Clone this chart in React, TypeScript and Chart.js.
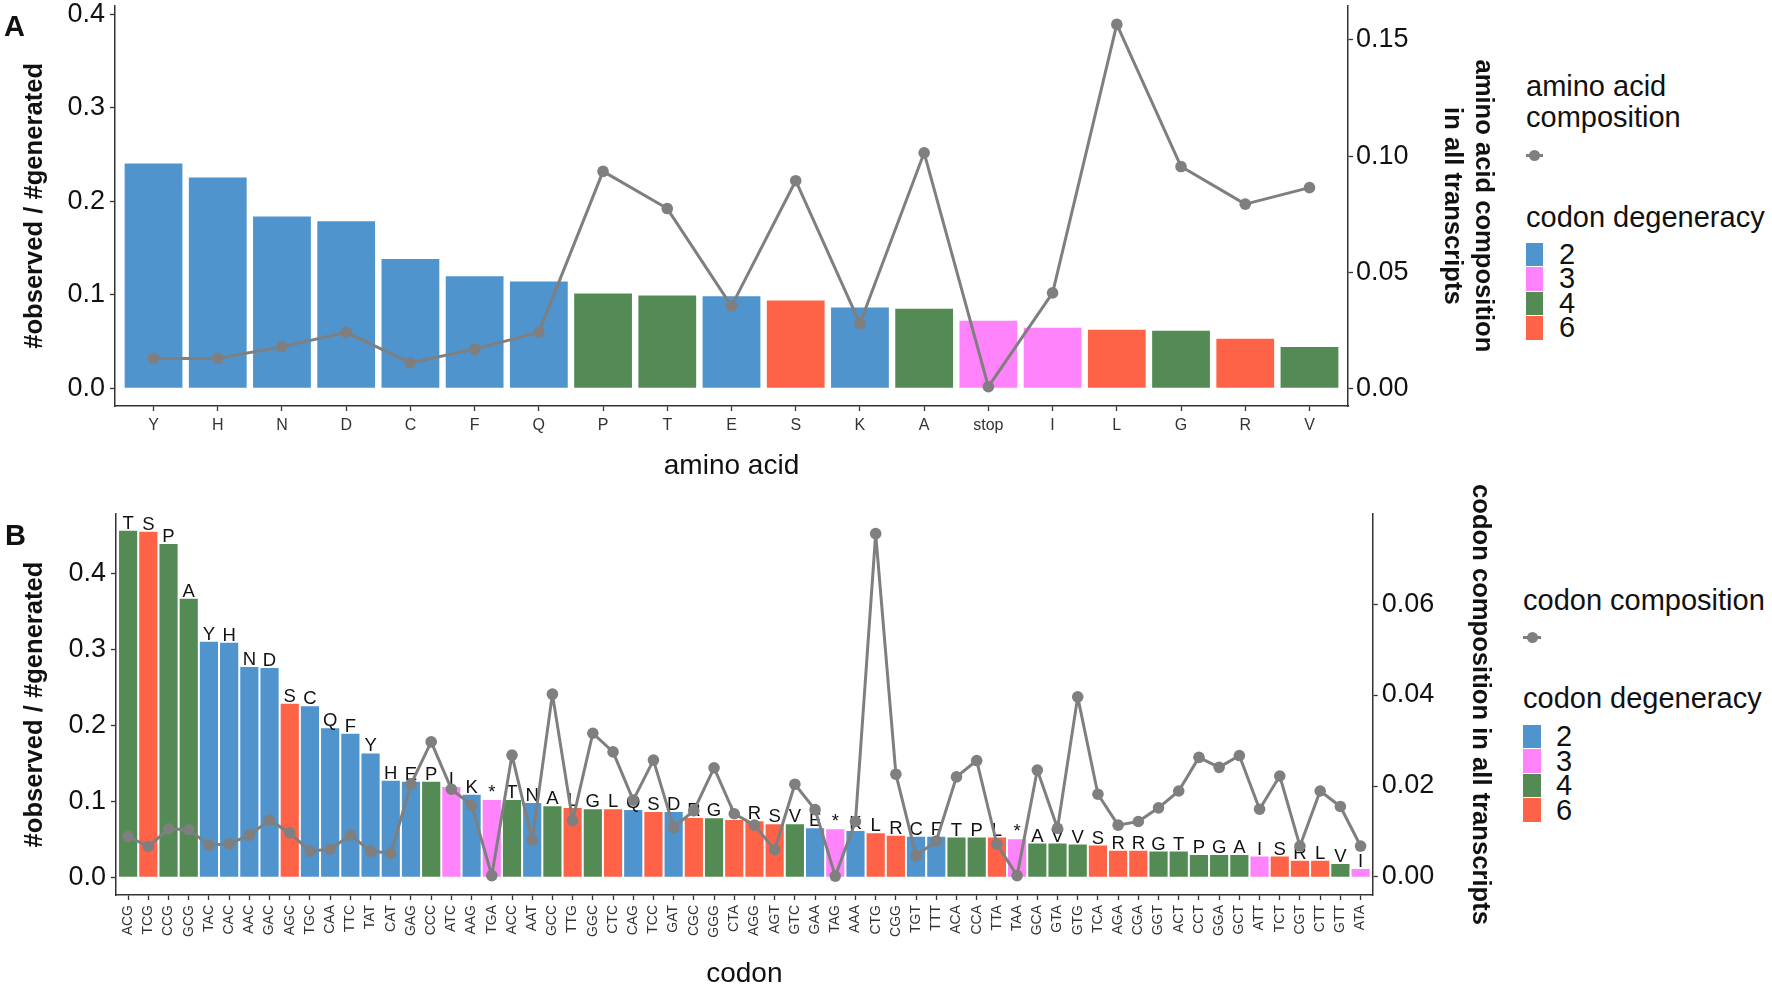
import React, { useEffect, useRef } from "react";
import { Chart, registerables } from "chart.js";

Chart.register(...registerables);

// ---------------- data ----------------
const aminoAcids = ["Y", "H", "N", "D", "C", "F", "Q", "P", "T", "E", "S", "K", "A", "stop", "I", "L", "G", "R", "V"];
const aminoAcidRatio = [0.2403, 0.2254, 0.1838, 0.1785, 0.1383, 0.1198, 0.1141, 0.1013, 0.0992, 0.0985, 0.0939, 0.0864, 0.085, 0.0722, 0.0647, 0.0626, 0.0615, 0.053, 0.0441];
const aminoAcidComposition = [0.0129, 0.0129, 0.0179, 0.0241, 0.011, 0.0169, 0.0241, 0.0934, 0.0774, 0.0354, 0.0894, 0.0279, 0.1014, 0.0007, 0.0411, 0.1567, 0.0955, 0.0793, 0.0864];

const codons = ["ACG", "TCG", "CCG", "GCG", "TAC", "CAC", "AAC", "GAC", "AGC", "TGC", "CAA", "TTC", "TAT", "CAT", "GAG", "CCC", "ATC", "AAG", "TGA", "ACC", "AAT", "GCC", "TTG", "GGC", "CTC", "CAG", "TCC", "GAT", "CGC", "GGG", "CTA", "AGG", "AGT", "GTC", "GAA", "TAG", "AAA", "CTG", "CGG", "TGT", "TTT", "ACA", "CCA", "TTA", "TAA", "GCA", "GTA", "GTG", "TCA", "AGA", "CGA", "GGT", "ACT", "CCT", "GGA", "GCT", "ATT", "TCT", "CGT", "CTT", "GTT", "ATA"];
const codonAminoAcids = ["T", "S", "P", "A", "Y", "H", "N", "D", "S", "C", "Q", "F", "Y", "H", "E", "P", "I", "K", "*", "T", "N", "A", "L", "G", "L", "Q", "S", "D", "R", "G", "L", "R", "S", "V", "E", "*", "K", "L", "R", "C", "F", "T", "P", "L", "*", "A", "V", "V", "S", "R", "R", "G", "T", "P", "G", "A", "I", "S", "R", "L", "V", "I"];
const codonRatio = [0.456, 0.4548, 0.4386, 0.3666, 0.31, 0.3087, 0.2767, 0.2754, 0.2284, 0.225, 0.196, 0.189, 0.163, 0.127, 0.1258, 0.1258, 0.1188, 0.1087, 0.1017, 0.1017, 0.0978, 0.0934, 0.0912, 0.0895, 0.0895, 0.0886, 0.086, 0.086, 0.0781, 0.0776, 0.0754, 0.0737, 0.0697, 0.0697, 0.0645, 0.0632, 0.0609, 0.0579, 0.0548, 0.0535, 0.0535, 0.0522, 0.0522, 0.0522, 0.05, 0.0443, 0.0443, 0.043, 0.0417, 0.035, 0.035, 0.0338, 0.0338, 0.0294, 0.0294, 0.0294, 0.0272, 0.0272, 0.0219, 0.0219, 0.0175, 0.011];
const codonComposition = [0.0089, 0.0067, 0.0106, 0.0104, 0.007, 0.0073, 0.0092, 0.0125, 0.0097, 0.0057, 0.0061, 0.0092, 0.0057, 0.0052, 0.0204, 0.0297, 0.0193, 0.0158, 0.0003, 0.0268, 0.0081, 0.0402, 0.0124, 0.0316, 0.0275, 0.0169, 0.0257, 0.0109, 0.0146, 0.024, 0.0139, 0.0114, 0.006, 0.0204, 0.0148, 0.0002, 0.0122, 0.0755, 0.0226, 0.0047, 0.0079, 0.022, 0.0256, 0.0072, 0.0003, 0.0235, 0.0107, 0.0396, 0.0182, 0.0114, 0.0122, 0.0152, 0.0189, 0.0263, 0.0241, 0.0267, 0.0149, 0.0222, 0.0068, 0.0189, 0.0155, 0.0068];

const degeneracyByAminoAcid: Record<string, number> = {
  Y: 2, H: 2, N: 2, D: 2, C: 2, F: 2, Q: 2, E: 2, K: 2,
  I: 3, "*": 3, stop: 3,
  P: 4, T: 4, A: 4, G: 4, V: 4,
  S: 6, L: 6, R: 6,
};
const degeneracyLevels = [2, 3, 4, 6];
const degeneracyColors = ["#4F94CD", "#FF83FA", "#548B54", "#FF6347"];

const ratioTicksA = [0, 0.1, 0.2, 0.3, 0.4];
const compositionTicksA = [0, 0.05, 0.1, 0.15];
const ratioTicksB = [0, 0.1, 0.2, 0.3, 0.4];
const compositionTicksB = [0, 0.02, 0.04, 0.06];

// ---------------- style ----------------
const FONT = '"Liberation Sans", Arial, Helvetica, sans-serif';
const GREY = "#7F7F7F";
const AXIS = "#333333";
const TEXT = "#111111";

const colorFor = (aa: string) => degeneracyColors[degeneracyLevels.indexOf(degeneracyByAminoAcid[aa])];

type Geom = {
  top: number; width: number; height: number; padTop: number;
  yWidth: number; y2Width: number; xHeight: number;
  xTitlePad: number; yTitlePad: number; y2TitlePad: number;
  xTickSize: number; xRot: number; xTickPad: number; y2TickPad: number;
};

type Spec = {
  labels: string[]; ratio: number[]; composition: number[]; colors: string[];
  barLabels?: string[];
  yMin: number; yMax: number; yTicks: number[]; yDigits: number;
  y2Min: number; y2Max: number; y2Ticks: number[]; y2Digits: number;
  xTitle: string; y2Title: string | string[];
  g: Geom;
};

function makeConfig(p: Spec): any {
  const n = p.labels.length;
  const barData = p.ratio.map((v, i) => ({ x: i, y: v }));
  const lineData = p.composition.map((v, i) => ({ x: i, y: v }));

  const barLabelPlugin = {
    id: "barLabels",
    afterDatasetDraw(chart: any, args: any) {
      if (!p.barLabels || args.index !== 0) return;
      const ctx = chart.ctx;
      const xs = chart.scales.x;
      const ys = chart.scales.y;
      ctx.save();
      ctx.font = `18.5px ${FONT}`;
      ctx.fillStyle = TEXT;
      ctx.textAlign = "center";
      ctx.textBaseline = "alphabetic";
      p.barLabels.forEach((t, i) => {
        ctx.fillText(t, xs.getPixelForValue(i), ys.getPixelForValue(p.ratio[i]) - 2);
      });
      ctx.restore();
    },
  };

  const tickGrid = {
    display: true, drawOnChartArea: false, drawTicks: true, offset: false,
    tickLength: 5, tickColor: AXIS, tickWidth: 1.3,
  };
  const border = { display: true, color: AXIS, width: 1.5 };

  return {
    type: "bar",
    data: {
      datasets: [
        {
          type: "bar", data: barData, backgroundColor: p.colors, borderWidth: 0,
          barPercentage: 0.9, categoryPercentage: 1, yAxisID: "y", xAxisID: "x", order: 1,
        },
        {
          type: "line", data: lineData, yAxisID: "y2", xAxisID: "x", order: 0,
          borderColor: GREY, borderWidth: 3, borderJoinStyle: "round", tension: 0,
          pointRadius: 5.8, pointHoverRadius: 5.8, pointBackgroundColor: GREY, pointBorderWidth: 0,
        },
      ],
    },
    options: {
      responsive: false,
      animation: false,
      events: [],
      layout: { padding: { top: p.g.padTop, left: 0, right: 0, bottom: 0 } },
      plugins: { legend: { display: false }, tooltip: { enabled: false }, title: { display: false } },
      scales: {
        x: {
          type: "linear", min: -0.6, max: n - 1 + 0.6, offset: false,
          afterBuildTicks: (s: any) => { s.ticks = p.labels.map((_, i) => ({ value: i })); },
          afterFit: (s: any) => { s.height = p.g.xHeight; s.paddingLeft = 0; s.paddingRight = 0; },
          ticks: {
            autoSkip: false, maxRotation: p.g.xRot, minRotation: p.g.xRot, padding: p.g.xTickPad,
            color: "#333333", font: { family: FONT, size: p.g.xTickSize },
            callback: (v: number) => p.labels[v] ?? "",
          },
          grid: tickGrid,
          border,
          title: {
            display: true, text: p.xTitle, color: TEXT,
            font: { family: FONT, size: 28, lineHeight: 1.2 },
            padding: { top: 0, bottom: p.g.xTitlePad },
          },
        },
        y: {
          type: "linear", position: "left", min: p.yMin, max: p.yMax,
          afterBuildTicks: (s: any) => { s.ticks = p.yTicks.map((v) => ({ value: v })); },
          afterFit: (s: any) => { s.width = p.g.yWidth; s.paddingTop = 0; s.paddingBottom = 0; },
          ticks: {
            padding: 5, color: TEXT, font: { family: FONT, size: 27 },
            callback: (v: number) => Number(v).toFixed(p.yDigits),
          },
          grid: tickGrid,
          border,
          title: {
            display: true, text: "#observed / #generated", color: TEXT,
            font: { family: FONT, size: 25.6, weight: "bold", lineHeight: 1.2 },
            padding: { top: p.g.yTitlePad, bottom: 0 },
          },
        },
        y2: {
          type: "linear", position: "right", min: p.y2Min, max: p.y2Max,
          afterBuildTicks: (s: any) => { s.ticks = p.y2Ticks.map((v) => ({ value: v })); },
          afterFit: (s: any) => { s.width = p.g.y2Width; s.paddingTop = 0; s.paddingBottom = 0; },
          ticks: {
            padding: p.g.y2TickPad, color: TEXT, font: { family: FONT, size: 27 },
            callback: (v: number) => Number(v).toFixed(p.y2Digits),
          },
          grid: tickGrid,
          border,
          title: {
            display: true, text: p.y2Title, color: TEXT,
            font: { family: FONT, size: 25.6, weight: "bold", lineHeight: 1.2 },
            padding: { top: p.g.y2TitlePad, bottom: 0 },
          },
        },
      },
    },
    plugins: [barLabelPlugin],
  };
}

const specA: Spec = {
  labels: aminoAcids,
  ratio: aminoAcidRatio,
  composition: aminoAcidComposition,
  colors: aminoAcids.map(colorFor),
  yMin: -0.0189, yMax: 0.4089, yTicks: ratioTicksA, yDigits: 1,
  y2Min: -0.0076, y2Max: 0.1647, y2Ticks: compositionTicksA, y2Digits: 2,
  xTitle: "amino acid",
  y2Title: ["amino acid composition", "in all transcripts"],
  g: {
    top: 0, width: 1520, height: 490, padTop: 5,
    yWidth: 115, y2Width: 172, xHeight: 84,
    xTitlePad: 7.2, yTitlePad: 19.3, y2TitlePad: 22,
    xTickSize: 16, xRot: 0, xTickPad: 5, y2TickPad: 3,
  },
};

const specB: Spec = {
  labels: codons,
  ratio: codonRatio,
  composition: codonComposition,
  colors: codonAminoAcids.map(colorFor),
  barLabels: codonAminoAcids,
  yMin: -0.0233, yMax: 0.478, yTicks: ratioTicksB, yDigits: 1,
  y2Min: -0.00396, y2Max: 0.0798, y2Ticks: compositionTicksB, y2Digits: 2,
  xTitle: "codon",
  y2Title: "codon composition in all transcripts",
  g: {
    top: 455, width: 1520, height: 545, padTop: 59,
    yWidth: 116, y2Width: 147.3, xHeight: 105,
    xTitlePad: 9.2, yTitlePad: 19.4, y2TitlePad: 24.6,
    xTickSize: 14, xRot: 90, xTickPad: 5, y2TickPad: 4,
  },
};

function Panel({ spec }: { spec: Spec }) {
  const ref = useRef<HTMLCanvasElement>(null);
  useEffect(() => {
    const chart = new Chart(ref.current as HTMLCanvasElement, makeConfig(spec));
    return () => chart.destroy();
  }, [spec]);
  return (
    <canvas
      ref={ref}
      width={spec.g.width}
      height={spec.g.height}
      style={{ position: "absolute", left: 0, top: spec.g.top, width: spec.g.width, height: spec.g.height }}
    />
  );
}

function Txt({ x, cy, size, bold, children }: { x: number; cy: number; size: number; bold?: boolean; children: React.ReactNode }) {
  return (
    <div
      style={{
        position: "absolute", left: x, top: cy - size * 0.6, height: size * 1.2,
        lineHeight: `${size * 1.2}px`, fontSize: size, fontWeight: bold ? "bold" : "normal",
        whiteSpace: "nowrap", color: TEXT, fontFamily: FONT,
      }}
    >
      {children}
    </div>
  );
}

function Legend({ x, titleLines, titleCys, keyCy, keyW, degCy, swTop, swW, swH, labelX }: {
  x: number; titleLines: string[]; titleCys: number[]; keyCy: number; keyW: number;
  degCy: number; swTop: number; swW: number; swH: number; labelX: number;
}) {
  return (
    <>
      {titleLines.map((t, i) => (
        <Txt key={t} x={x} cy={titleCys[i]} size={29}>{t}</Txt>
      ))}
      <div style={{ position: "absolute", left: x, top: keyCy - 1.5, width: keyW, height: 3, background: GREY }} />
      <div style={{ position: "absolute", left: x + keyW / 2 - 5.5, top: keyCy - 5.5, width: 11, height: 11, borderRadius: "50%", background: GREY }} />
      <Txt x={x} cy={degCy} size={29}>codon degeneracy</Txt>
      {degeneracyLevels.map((lv, i) => (
        <React.Fragment key={lv}>
          <div style={{ position: "absolute", left: x, top: swTop + i * (swH + 1), width: swW, height: swH, background: degeneracyColors[i] }} />
          <Txt x={labelX} cy={swTop + i * (swH + 1) + swH / 2} size={29}>{String(lv)}</Txt>
        </React.Fragment>
      ))}
    </>
  );
}

export default function App() {
  return (
    <div style={{ position: "absolute", left: 0, top: 0, width: 1772, height: 984, overflow: "hidden", background: "#ffffff", fontFamily: FONT }}>
      <Panel spec={specA} />
      <Panel spec={specB} />
      <Txt x={4} cy={26} size={29} bold>A</Txt>
      <Txt x={5} cy={535} size={29} bold>B</Txt>
      <Legend
        x={1526} titleLines={["amino acid", "composition"]} titleCys={[86, 117]}
        keyCy={155} keyW={17} degCy={217} swTop={242.5} swW={17} swH={23.5} labelX={1559}
      />
      <Legend
        x={1523} titleLines={["codon composition"]} titleCys={[600]}
        keyCy={637.5} keyW={18} degCy={698} swTop={725} swW={18} swH={23.4} labelX={1556}
      />
    </div>
  );
}
